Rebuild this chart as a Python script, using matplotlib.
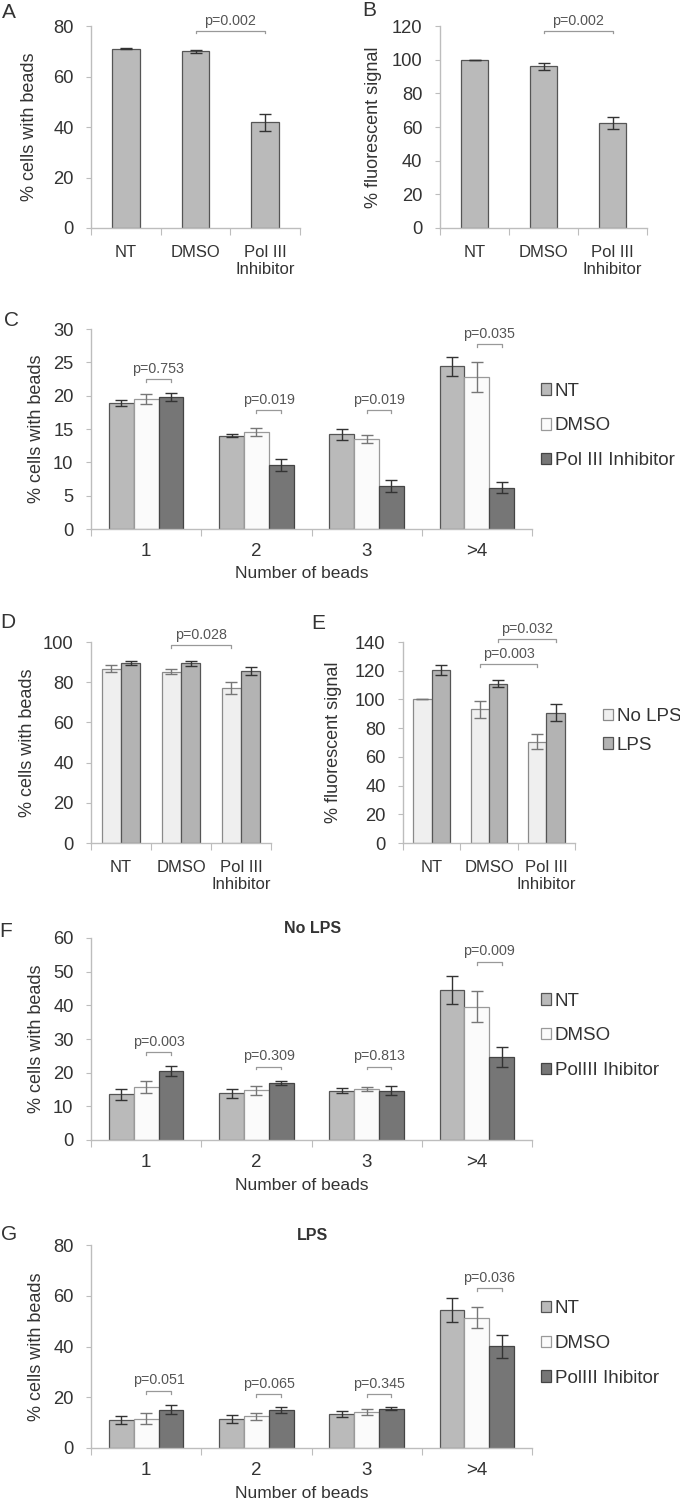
import numpy as np
import matplotlib
matplotlib.use('Agg')
import matplotlib.pyplot as plt
from matplotlib import font_manager

names = {f.name for f in font_manager.fontManager.ttflist}
fam = 'Liberation Sans' if 'Liberation Sans' in names else 'DejaVu Sans'
plt.rcParams['font.family'] = [fam, 'DejaVu Sans']

# ---- data ----
treat_labels = ['NT', 'DMSO', 'Pol III\nInhibitor']
bead_labels = ['1', '2', '3', '>4']

# A: % cells with beads
a_vals = [71.0, 70.0, 41.8]
a_err = [0.3, 0.5, 3.2]
# B: % fluorescent signal
b_vals = [100.0, 96.0, 62.3]
b_err = [0.0, 2.0, 3.5]

# C: number of beads
c_nt = [18.9, 14.0, 14.2, 24.4]
c_nt_err = [0.5, 0.25, 0.85, 1.4]
c_dmso = [19.5, 14.5, 13.5, 22.8]
c_dmso_err = [0.75, 0.6, 0.55, 2.3]
c_pol = [19.8, 9.6, 6.4, 6.2]
c_pol_err = [0.65, 0.85, 0.9, 0.85]
c_p = ['p=0.753', 'p=0.019', 'p=0.019', 'p=0.035']
c_p_y = [22.5, 17.8, 17.8, 27.7]

# D: % cells with beads, no LPS / LPS
d_nolps = [86.8, 85.3, 77.0]
d_nolps_err = [1.6, 1.2, 2.9]
d_lps = [89.6, 89.4, 85.6]
d_lps_err = [1.1, 1.2, 1.9]

# E: % fluorescent signal, no LPS / LPS
e_nolps = [100.0, 93.0, 70.6]
e_nolps_err = [0.0, 6.2, 5.2]
e_lps = [120.4, 111.0, 90.7]
e_lps_err = [3.7, 2.5, 5.9]

# F: no LPS, number of beads
f_nt = [13.6, 13.9, 14.6, 44.5]
f_nt_err = [1.6, 1.3, 0.7, 4.2]
f_dmso = [15.7, 14.8, 15.2, 39.6]
f_dmso_err = [1.75, 1.35, 0.6, 4.55]
f_pol = [20.5, 16.9, 14.7, 24.6]
f_pol_err = [1.4, 0.5, 1.45, 3.0]
f_p = ['p=0.003', 'p=0.309', 'p=0.813', 'p=0.009']
f_p_y = [26.0, 21.8, 21.8, 52.9]

# G: LPS, number of beads
g_nt = [10.9, 11.3, 13.5, 54.3]
g_nt_err = [1.6, 1.6, 1.2, 4.7]
g_dmso = [11.6, 12.5, 14.2, 51.3]
g_dmso_err = [2.0, 1.3, 1.0, 4.1]
g_pol = [15.1, 15.1, 15.5, 40.1]
g_pol_err = [1.8, 1.2, 0.6, 4.6]
g_p = ['p=0.051', 'p=0.065', 'p=0.345', 'p=0.036']
g_p_y = [22.5, 21.2, 21.2, 62.9]

# ---- style ----
TXT = '#333333'
AXC = '#bdbdbd'
PCOL = '#555555'
BRC = '#999999'
NT_C = '#bababa'
DMSO_C = '#fbfbfb'
POL_C = '#767676'
NOLPS_C = '#efefef'
LPS_C = '#b3b3b3'

W, H = 680, 1500
fig = plt.figure(figsize=(W / 100, H / 100), dpi=100)


def panel(x0, y0, x1, y1, ymax, step, labels, ylabel, ylab_x, xpad=12, xls=12):
    ax = fig.add_axes([x0 / W, 1 - y1 / H, (x1 - x0) / W, (y1 - y0) / H])
    n = len(labels)
    ax.set_ylim(0, ymax)
    ax.set_yticks(np.arange(0, ymax + 0.01, step))
    ax.set_xlim(0, n)
    ax.set_xticks(np.arange(n + 1))
    ax.set_xticklabels([])
    ax.set_xticks(np.arange(n) + 0.5, minor=True)
    ax.set_xticklabels(labels, minor=True)
    for s in ['top', 'right']:
        ax.spines[s].set_visible(False)
    for s in ['left', 'bottom']:
        ax.spines[s].set_color(AXC)
        ax.spines[s].set_linewidth(1)
    ax.tick_params(axis='x', which='major', length=5, color=AXC)
    ax.tick_params(axis='x', which='minor', length=0, pad=xpad, labelsize=xls, labelcolor=TXT)
    ax.tick_params(axis='y', length=3.6, color=AXC, pad=9, labelsize=13.2, labelcolor=TXT)
    ax.set_ylabel(ylabel, fontsize=13, color=TXT, va='center')
    ax.yaxis.set_label_coords((ylab_x - x0) / (x1 - x0), 0.5)
    return ax


def bars(ax, series, errs, colors, edges, ecols, w):
    k = len(series)
    out = []
    for j, (vals, err, c, ec, erc) in enumerate(zip(series, errs, colors, edges, ecols)):
        x = np.arange(len(vals)) + 0.5 + (j - (k - 1) / 2) * w
        b = ax.bar(x, vals, width=w, color=c, edgecolor=ec, linewidth=0.9, zorder=2)
        ax.errorbar(x, vals, yerr=err, fmt='none', ecolor=erc, elinewidth=1,
                    capsize=4.5, capthick=1, zorder=3)
        out.append((b, x))
    return out


def bracket(ax, x1, x2, y, text, drop):
    ax.plot([x1, x1, x2, x2], [y - drop, y, y, y - drop], color=BRC, lw=0.9,
            clip_on=False, zorder=4)
    ax.annotate(text, ((x1 + x2) / 2, y), xytext=(0, 2.5), textcoords='offset points',
                ha='center', va='bottom', fontsize=10.3, color=PCOL, annotation_clip=False)


def letter(x, y, s):
    fig.text(x / W, 1 - y / H, s, fontsize=15, color=TXT, ha='center', va='center')


# ---- A ----
ax = panel(91, 26, 300, 228, 80, 20, treat_labels, '% cells with beads', 30)
r = bars(ax, [a_vals], [a_err], [NT_C], ['#555555'], ['#333333'], 0.40)
xs = r[0][1]
bracket(ax, xs[1], xs[2], 78.0, 'p=0.002', 0.9)
letter(9, 12, 'A')

# ---- B ----
ax = panel(440, 26, 647, 228, 120, 20, treat_labels, '% fluorescent signal', 373)
r = bars(ax, [b_vals], [b_err], [NT_C], ['#555555'], ['#333333'], 0.40)
xs = r[0][1]
bracket(ax, xs[1], xs[2], 117.0, 'p=0.002', 1.4)
letter(369, 11, 'B')


def bead_panel(y0, y1, ymax, step, nt, nte, dm, dme, pol, pole, pvals, py, leg3, title=None):
    ax = panel(91, y0, 532, y1, ymax, step, bead_labels, '% cells with beads', 37,
               xpad=10, xls=13.5)
    r = bars(ax, [nt, dm, pol], [nte, dme, pole], [NT_C, DMSO_C, POL_C],
             ['#555555', '#9a9a9a', '#444444'], ['#333333', '#777777', '#333333'], 0.225)
    for i in range(4):
        bracket(ax, r[1][1][i], r[2][1][i], py[i], pvals[i], ymax * 0.013)
    ax.set_xlabel('Number of beads', fontsize=12.5, color=TXT, va='center')
    ax.xaxis.set_label_coords(0.478, -0.225)
    ax.legend([r[0][0], r[1][0], r[2][0]], ['NT', 'DMSO', leg3], loc='center left',
              bbox_to_anchor=(1.02, 0.515), frameon=False, fontsize=13.5,
              handlelength=0.55, handleheight=0.55, handletextpad=0.2,
              labelspacing=0.95, borderpad=0, borderaxespad=0, labelcolor=TXT)
    if title:
        ax.text(0.503, 1.01, title, transform=ax.transAxes, ha='center', va='bottom',
                fontsize=11.5, fontweight='bold', color=TXT)
    return ax


# ---- C ----
bead_panel(329, 529, 30, 5, c_nt, c_nt_err, c_dmso, c_dmso_err, c_pol, c_pol_err,
           c_p, c_p_y, 'Pol III Inhibitor')
letter(11, 320, 'C')

# ---- D ----
ax = panel(91, 642, 271, 843, 100, 20, treat_labels, '% cells with beads', 28)
r = bars(ax, [d_nolps, d_lps], [d_nolps_err, d_lps_err], [NOLPS_C, LPS_C],
         ['#8a8a8a', '#555555'], ['#777777', '#333333'], 0.32)
bracket(ax, r[0][1][1], r[0][1][2], 98.3, 'p=0.028', 1.3)
letter(8, 623, 'D')

# ---- E ----
ax = panel(403, 642, 575, 843, 140, 20, treat_labels, '% fluorescent signal', 334)
r = bars(ax, [e_nolps, e_lps], [e_nolps_err, e_lps_err], [NOLPS_C, LPS_C],
         ['#8a8a8a', '#555555'], ['#777777', '#333333'], 0.32)
bracket(ax, r[0][1][1], r[0][1][2], 124.5, 'p=0.003', 1.8)
bracket(ax, r[1][1][1], r[1][1][2], 142.0, 'p=0.032', 1.8)
ax.legend([r[0][0], r[1][0]], ['No LPS', 'LPS'], loc='center left',
          bbox_to_anchor=(1.16, 0.557), frameon=False, fontsize=13.5,
          handlelength=0.55, handleheight=0.55, handletextpad=0.2,
          labelspacing=0.6, borderpad=0, borderaxespad=0, labelcolor=TXT)
letter(318, 624, 'E')

# ---- F ----
bead_panel(938, 1140, 60, 10, f_nt, f_nt_err, f_dmso, f_dmso_err, f_pol, f_pol_err,
           f_p, f_p_y, 'PolIII Ihibitor', title='No LPS')
letter(6, 932, 'F')

# ---- G ----
bead_panel(1245, 1448, 80, 20, g_nt, g_nt_err, g_dmso, g_dmso_err, g_pol, g_pol_err,
           g_p, g_p_y, 'PolIII Ihibitor', title='LPS')
letter(9, 1235, 'G')

fig.savefig('out.png', dpi=100)
